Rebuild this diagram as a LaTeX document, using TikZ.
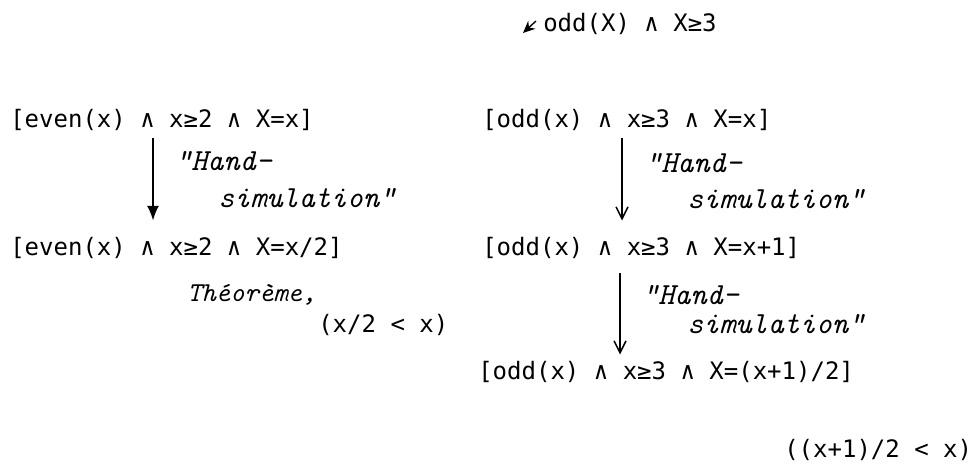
\documentclass[tikz,border=0pt]{standalone}
\usepackage{fontspec}
\newfontfamily\exprfont{DejaVu Sans Mono}
\usetikzlibrary{arrows.meta, calc}

\tikzset{
    expr/.style={anchor=base west, inner sep=0pt, font=\exprfont\fontsize{18}{22}\selectfont},
    hand/.style={anchor=base west, inner sep=0pt, font=\ttfamily\itshape\fontsize{23}{27}\selectfont},
    solid arrow/.style={line width=1.3pt, -{Latex[length=11pt, width=9pt]}},
    open arrow/.style={line width=1.1pt, -{Straight Barb[length=9pt, width=9pt]}}
}

\begin{document}
\begin{tikzpicture}[x=0.75pt, y=-0.75pt]
    \useasboundingbox (0,0) rectangle (974,465);

    % Goal
    \coordinate (fragA) at (536,21);
    \coordinate (fragB) at (523,33);
    \draw[-{Stealth[length=9pt, width=8pt]}, line width=1pt] (fragA) -- (fragB);
    \node[expr] (goal) at (543,31) {odd(X) ∧ X≥3};

    % Even case
    \node[expr] (even1) at (10,127) {[even(x) ∧ x≥2 ∧ X=x]};
    \node[expr] (even2) at (10,255) {[even(x) ∧ x≥2 ∧ X=x/2]};
    \draw[solid arrow] ($(even1.south west)+(143,8)$) -- ($(even2.north west)+(143,-16)$);
    \node[hand, font=\ttfamily\itshape\fontsize{20.5}{24}\selectfont] (thm) at (187,301) {Théorème,};
    \node[expr] (less1) at (318,332) {(x/2 < x)};

    % Odd case
    \node[expr] (odd1) at (482,127) {[odd(x) ∧ x≥3 ∧ X=x]};
    \node[expr] (odd2) at (482,255) {[odd(x) ∧ x≥3 ∧ X=x+1]};
    \node[expr] (odd3) at (478,379) {[odd(x) ∧ x≥3 ∧ X=(x+1)/2]};
    \draw[open arrow] ($(odd1.south west)+(140,8)$) -- ($(odd2.north west)+(140,-16)$);
    \draw[open arrow] ($(odd2.south west)+(138,15)$) -- ($(odd3.north west)+(142,-6)$);
    \node[expr] (less2) at (784,457) {((x+1)/2 < x)};

    % Hand-simulation labels
    \foreach \n/\x/\y/\xx/\yy in {a/175/170/218/207, b/645/172/687/208, c/642/304/687/333} {
        \node[hand] (hand\n) at (\x,\y) {"Hand-};
        \node[hand] (sim\n) at (\xx,\yy) {simulation"};
    }
\end{tikzpicture}
\end{document}
